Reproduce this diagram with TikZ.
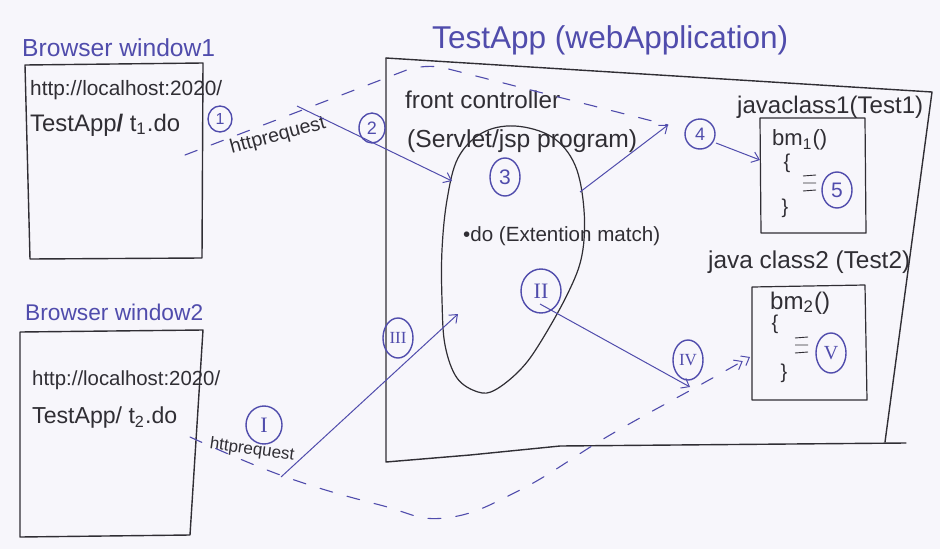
\documentclass[tikz,border=0pt]{standalone}
\usepackage{fontspec}
\setmainfont{Liberation Sans}
\newfontfamily\numfont{Liberation Serif}
\usetikzlibrary{shapes.geometric,arrows.meta}
\definecolor{paper}{RGB}{247,246,251}
\definecolor{pen}{RGB}{48,46,52}
\definecolor{inkblue}{RGB}{80,76,172}
% scale a piece of text to a given width (in pt)
\newcommand{\fitw}[2]{\resizebox{#1pt}{!}{#2}}
\begin{document}
\begin{tikzpicture}[x=1pt,y=-1pt,
  every node/.style={inner sep=0pt},
  frame/.style={draw=pen,line width=1.4pt,line join=round,line cap=round},
  thinframe/.style={draw=pen,line width=1.2pt,line join=round,line cap=round},
  bluelink/.style={draw=inkblue,line width=1pt,-{Straight Barb[length=7pt,width=11pt,line width=1pt]}},
  dashlink/.style={draw=inkblue,line width=1.1pt,dash pattern=on 13pt off 15pt,line cap=round},
  handtext/.style={text=pen},
  bluetext/.style={text=inkblue},
  badge/.style={ellipse,draw=inkblue,line width=1.4pt,text=inkblue,
    font=\fontsize{21}{21}\selectfont,minimum width=28pt,minimum height=32pt},
  roman/.style={font=\numfont\fontsize{#1}{#1}\selectfont}
]
% paper
\fill[paper] (0,0) rectangle (940,549);
\useasboundingbox (0,0) rectangle (940,549);

% ---------- browser window 1 ----------
\node[bluetext,anchor=west] (bw1) at (22,48) {\fitw{193}{Browser window1}};
\draw[frame] (25,65) -- (203,63) -- (202,258) -- (30,259) -- cycle;
\node[handtext,anchor=west] (url1) at (30,90) {\fitw{192}{http://localhost:2020/}};
\node[handtext,anchor=west] (res1) at (30,125) {\fitw{150}{TestApp\textbf{/} t\textsubscript{1}.do}};
\node[badge,minimum width=24pt,minimum height=26pt,font=\fontsize{16}{16}\selectfont] (s1) at (220,119) {1};

% ---------- browser window 2 ----------
\node[bluetext,anchor=west] (bw2) at (25,312) {\fitw{178}{Browser window2}};
\draw[frame] (20,332) -- (203,330) -- (190,535) -- (20,537) -- cycle;
\node[handtext,anchor=west] (url2) at (32,380) {\fitw{188}{http://localhost:2020/}};
\node[handtext,anchor=west] (res2) at (32,418) {\fitw{145}{TestApp/ t\textsubscript{2}.do}};
\node[badge,roman=22,minimum width=36pt,minimum height=38pt] (r1) at (264,425) {I};

% ---------- web application ----------
\node[bluetext,anchor=west] (title) at (432,40) {\fitw{356}{TestApp (webApplication)}};
\draw[frame] (386,58) -- (932,92) -- (885,442);
\draw[frame] (386,58) -- (386,462) -- (470,455) -- (560,446) -- (906,443);

% front controller
\node[handtext,anchor=west] (fc) at (405,100) {\fitw{155}{front controller}};
\node[handtext,anchor=west] (fcsub) at (407,141) {\fitw{230}{(Servlet/jsp program)}};
\draw[thinframe] plot[smooth cycle,tension=0.6] coordinates {
  (515,126) (552,137) (575,165) (584,210) (582,255) (568,293) (540,343)
  (520,370) (495,390) (478,392) (457,378) (445,345) (442,300) (442,250)
  (447,200) (458,158) (482,133)};
\node[handtext,anchor=west] (ext) at (463,236) {\fitw{197}{•do (Extention match)}};
\node[badge,minimum width=30pt,minimum height=38pt] (s3) at (505,177) {3};
\node[badge,roman=22,minimum width=40pt,minimum height=44pt] (r2) at (541,291) {II};
\node[badge,roman=17,minimum width=30pt,minimum height=40pt] (r3) at (398,338) {III};

% java class 1
\node[handtext,anchor=west] (jc1) at (737,107) {\fitw{186}{javaclass1(Test1)}};
\draw[thinframe] (760,118) -- (865,118) -- (866,233) -- (761,233) -- cycle;
\node[handtext,anchor=west] (m1) at (772,140) {\fitw{55}{bm\textsubscript{1}()}};
\node[handtext,font=\fontsize{20}{20}\selectfont] (o1) at (787,163) {\{};
\node[handtext,font=\fontsize{20}{20}\selectfont] (c1) at (785,208) {\}};
\draw[pen,line width=0.9pt] (803,176) -- (816,175) (803,183) -- (816,183) (803,191) -- (816,190);
\node[badge,minimum width=30pt,minimum height=36pt] (s5) at (837,190) {5};

% java class 2
\node[handtext,anchor=west] (jc2) at (708,262) {\fitw{202}{java class2 (Test2)}};
\draw[thinframe] (752,287) -- (865,285) -- (867,400) -- (752,400) -- cycle;
\node[handtext,anchor=west] (m2) at (770,303) {\fitw{60}{bm\textsubscript{2}()}};
\node[handtext,font=\fontsize{20}{20}\selectfont] (o2) at (775,324) {\{};
\node[handtext,font=\fontsize{20}{20}\selectfont] (c2) at (784,373) {\}};
\draw[pen,line width=0.9pt] (795,338) -- (808,337) (795,345) -- (808,345) (795,353) -- (808,352);
\node[badge,roman=20,minimum width=30pt,minimum height=40pt] (r5) at (831,353) {V};

% remaining step marks
\node[badge,minimum width=26pt,minimum height=30pt,font=\fontsize{18}{18}\selectfont] (s2) at (372,128) {2};
\node[badge,minimum width=30pt,minimum height=30pt,font=\fontsize{18}{18}\selectfont] (s4) at (700,134) {4};
\node[badge,roman=17,minimum width=30pt,minimum height=40pt] (r4) at (688,360) {IV};

% request labels
\node[handtext,rotate=15] (req1) at (278,136) {\fitw{98}{httprequest}};
\node[handtext,rotate=-8] (req2) at (252,450) {\fitw{85}{httprequest}};

% ---------- connector end points ----------
\coordinate (d1a) at (185,155);
\coordinate (d1b) at (425,63);
\coordinate (d1c) at (668,125);
\coordinate (a2s) at (297,106);
\coordinate (a2e) at (452,181);
\coordinate (a3s) at (580,192);
\coordinate (a4s) at (716,143);
\coordinate (a4e) at (760,160);
\coordinate (b1s) at (281,477);
\coordinate (b1e) at (458,314);
\coordinate (b2s) at (540,304);
\coordinate (b2e) at (690,387);

% request 1: dashed path from window 1 to the java class
\draw[dashlink,rounded corners=20pt] (d1a) -- (d1b) -- (d1c);
\draw[bluelink] (a2s) -- (a2e);
\draw[bluelink] (a3s) -- (d1c);
\draw[bluelink] (a4s) -- (a4e);

% request 2: dashed path from window 2 to the second java class
\draw[dashlink,-{Straight Barb[length=7pt,width=11pt,line width=1pt]Straight Barb[length=7pt,width=11pt,line width=1pt]}]
  plot[smooth,tension=0.7] coordinates {(190,437) (283,476) (380,505) (445,518) (520,490) (610,435) (700,385) (750,357)};
\draw[bluelink] (b1s) -- (b1e);
\draw[bluelink] (b2s) -- (b2e);
\end{tikzpicture}
\end{document}
